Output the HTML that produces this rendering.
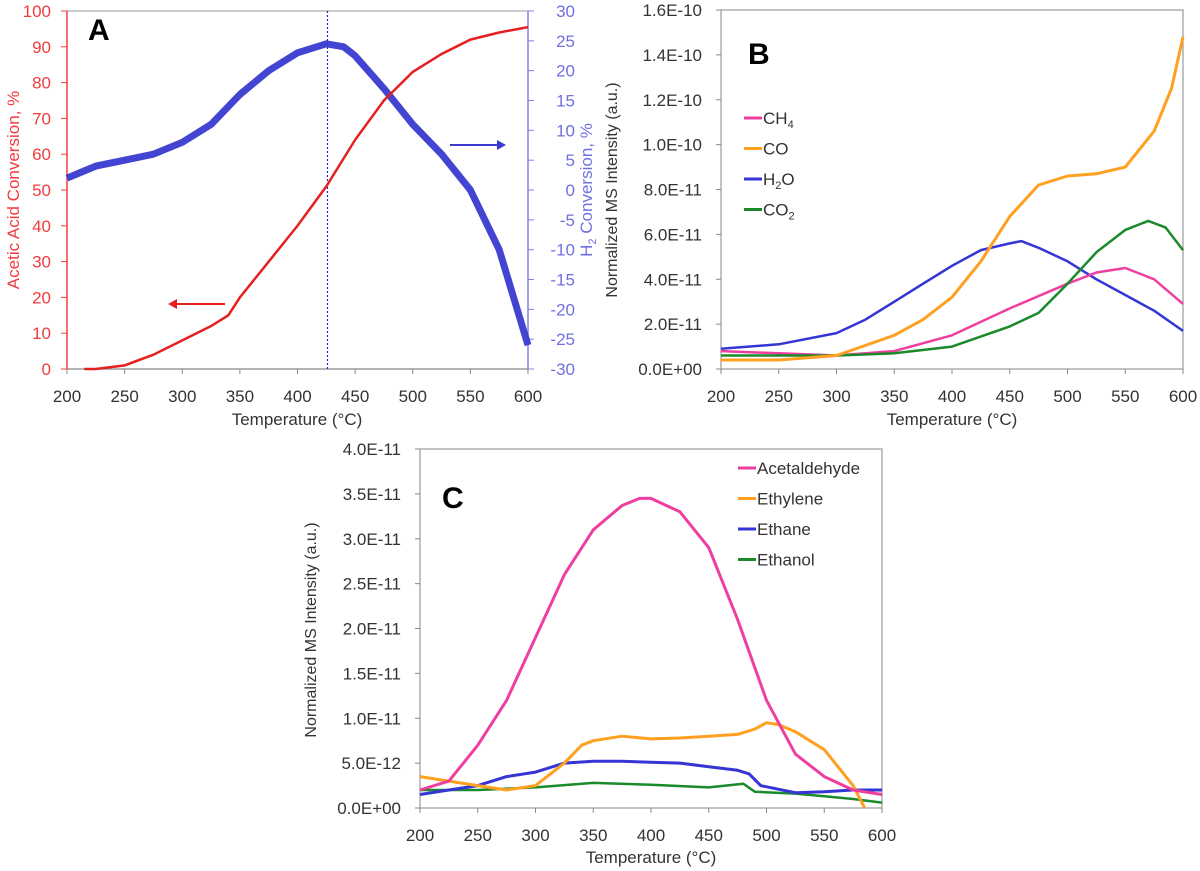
<!DOCTYPE html>
<html><head><meta charset="utf-8">
<style>
html,body{margin:0;padding:0;background:#fff;}
svg{display:block;font-family:"Liberation Sans",sans-serif;}
</style></head>
<body>
<svg id="fig" width="1200" height="871" viewBox="0 0 1200 871" xmlns="http://www.w3.org/2000/svg"></svg>
<script>
// ---------- Panel A data ----------
const aTemp = [215,225,250,275,300,325,340,350,375,400,425,450,475,500,525,550,575,600];
const aAcetic = [0,0,1,4,8,12,15,20,30,40,51,64,75,83,88,92,94,95.5];
const aH2Temp = [200,225,250,275,300,325,350,375,400,425,440,450,475,500,525,550,575,600];
const aH2 = [2,4,5,6,8,11,16,20,23,24.5,24,22.5,17,11,6,0,-10,-26];
const aLeftTicks = [0,10,20,30,40,50,60,70,80,90,100];
const aRightTicks = [-30,-25,-20,-15,-10,-5,0,5,10,15,20,25,30];
const xTicks = [200,250,300,350,400,450,500,550,600];
// ---------- Panel B data (x1e-11) ----------
const bCH4T = [200,250,300,350,400,450,500,525,550,575,600];
const bCH4 = [0.8,0.7,0.6,0.8,1.5,2.7,3.8,4.3,4.5,4.0,2.9];
const bCOT = [200,250,300,350,375,400,425,450,475,500,525,550,575,590,600];
const bCO = [0.4,0.4,0.6,1.5,2.2,3.2,4.8,6.8,8.2,8.6,8.7,9.0,10.6,12.5,14.8];
const bH2OT = [200,250,300,325,350,375,400,425,450,460,475,500,525,550,575,600];
const bH2O = [0.9,1.1,1.6,2.2,3.0,3.8,4.6,5.3,5.6,5.7,5.4,4.8,4.0,3.3,2.6,1.7];
const bCO2T = [200,250,300,350,400,450,475,500,525,550,570,585,600];
const bCO2 = [0.6,0.6,0.6,0.7,1.0,1.9,2.5,3.8,5.2,6.2,6.6,6.3,5.3];
const bTicks = ["0.0E+00","2.0E-11","4.0E-11","6.0E-11","8.0E-11","1.0E-10","1.2E-10","1.4E-10","1.6E-10"];
// ---------- Panel C data (x1e-12) ----------
const cAcetT = [200,225,250,275,300,325,350,375,390,400,425,450,475,500,525,550,575,600];
const cAcet = [2,3,7,12,19,26,31,33.7,34.5,34.5,33,29,21,12,6,3.5,2,1.5];
const cEthyT = [200,225,250,275,300,325,340,350,375,400,425,450,475,490,500,510,525,550,575,585];
const cEthy = [3.5,3,2.5,2,2.5,5,7,7.5,8,7.7,7.8,8,8.2,8.8,9.5,9.3,8.5,6.5,2.5,0];
const cEthaT = [200,225,250,275,300,325,350,375,400,425,450,475,485,495,525,550,575,600];
const cEtha = [1.5,2,2.5,3.5,4,5,5.2,5.2,5.1,5,4.6,4.2,3.8,2.5,1.7,1.8,2,2];
const cEtohT = [200,250,300,350,400,450,480,490,525,550,575,600];
const cEtoh = [2,2,2.3,2.8,2.6,2.3,2.7,1.8,1.6,1.3,1,0.6];
const cTicks = ["0.0E+00","5.0E-12","1.0E-11","1.5E-11","2.0E-11","2.5E-11","3.0E-11","3.5E-11","4.0E-11"];

const NS = "http://www.w3.org/2000/svg";
const svg = document.getElementById("fig");
function mk(tag, attrs, parent){
  const e = document.createElementNS(NS, tag);
  for (const k in attrs) e.setAttribute(k, attrs[k]);
  (parent||svg).appendChild(e);
  return e;
}
function txt(s, x, y, attrs, parent){
  const t = mk("text", Object.assign({x:x, y:y}, attrs), parent);
  t.textContent = s;
  return t;
}
function lin(d0,d1,r0,r1){ return v => r0 + (v-d0)*(r1-r0)/(d1-d0); }
function pathFrom(xs, ys, sx, sy){
  return xs.map((x,i)=>(i?"L":"M")+sx(x).toFixed(1)+","+sy(ys[i]).toFixed(1)).join(" ");
}

// ===== Panel A =====
const gA = mk("g",{});


const axA = lin(200,600,67,528), ayL = lin(0,100,369,11), ayR = lin(-30,30,369,11);
mk("line",{x1:67,y1:11,x2:528,y2:11,stroke:"#999","stroke-width":1},gA);
mk("line",{x1:67,y1:369,x2:528,y2:369,stroke:"#888","stroke-width":1.2},gA);
const aLeftAxis = mk("line",{x1:67,y1:11,x2:67,y2:369,stroke:"#f04040","stroke-width":1.5},gA);


const aRightAxis = mk("line",{x1:528,y1:11,x2:528,y2:369,stroke:"#8080e8","stroke-width":1.5},gA);


aLeftTicks.forEach(v=>{
  mk("line",{x1:61,y1:ayL(v),x2:67,y2:ayL(v),stroke:"#f04040"},gA);
  const t = txt(String(v),51,ayL(v)+6,{"text-anchor":"end","font-size":17,fill:"#f03c3c"},gA);
  
  
});
aRightTicks.forEach(v=>{
  mk("line",{x1:528,y1:ayR(v),x2:534,y2:ayR(v),stroke:"#8080e8"},gA);
  const t = txt(String(v),575,ayR(v)+6,{"text-anchor":"end","font-size":17,fill:"#7070e0"},gA);
  
  
});
xTicks.forEach(v=>{
  mk("line",{x1:axA(v),y1:369,x2:axA(v),y2:374,stroke:"#888"},gA);
  const t = txt(String(v),axA(v),402,{"text-anchor":"middle","font-size":17,fill:"#333"},gA);
  
  
});
const aXT = txt("Temperature (°C)",297,425,{"text-anchor":"middle","font-size":17,fill:"#333"},gA);


const aYT = txt("Acetic Acid Conversion, %",0,0,{"text-anchor":"middle","font-size":17,fill:"#f03c3c",transform:"translate(19,190) rotate(-90)"},gA);


const aYR = mk("text",{"text-anchor":"middle","font-size":17,fill:"#7070e0",transform:"translate(592,190) rotate(-90)"},gA);
aYR.innerHTML = 'H<tspan font-size="11" dy="4">2</tspan><tspan dy="-4"> Conversion, %</tspan>';


const vline = mk("line",{x1:axA(426),y1:11,x2:axA(426),y2:369,stroke:"#2020e0","stroke-width":1.2,"stroke-dasharray":"2,2"},gA);


const h2 = mk("path",{d:pathFrom(aH2Temp,aH2,axA,ayR),fill:"none",stroke:"#3a3ad0","stroke-width":7,"stroke-linejoin":"round",opacity:0.95},gA);


const ac = mk("path",{d:pathFrom(aTemp,aAcetic,axA,ayL),fill:"none",stroke:"#e52020","stroke-width":2.5},gA);


const arrR = mk("g",{},gA);


mk("line",{x1:225,y1:304,x2:172,y2:304,stroke:"#e52020","stroke-width":2},arrR);
mk("path",{d:"M168,304 L177,299 L177,309 Z",fill:"#e52020"},arrR);
const arrB = mk("g",{},gA);


mk("line",{x1:450,y1:145,x2:502,y2:145,stroke:"#3a3ad0","stroke-width":2},arrB);
mk("path",{d:"M506,145 L497,140 L497,150 Z",fill:"#3a3ad0"},arrB);
const la = txt("A",88,40,{"font-size":30,"font-weight":"bold",fill:"#000"},gA);



// ===== Generic MS panel =====
function msPanel(name, x0,x1,y0,y1, ymax, tickLabels, series, labelPos, legend, yTitleX, yTitleY, xTitleX, xTitleY){
  const g = mk("g",{});
  
  
  const sx = lin(200,600,x0,x1), sy = lin(0,ymax,y1,y0);
  mk("rect",{x:x0,y:y0,width:x1-x0,height:y1-y0,fill:"none",stroke:"#999","stroke-width":1.2},g);
  tickLabels.forEach((s,i)=>{
    const y = sy(i*ymax/(tickLabels.length-1));
    mk("line",{x1:x0-5,y1:y,x2:x0,y2:y,stroke:"#888"},g);
    const t = txt(s,x0-19,y+6,{"text-anchor":"end","font-size":17,fill:"#333"},g);
    
    
  });
  xTicks.forEach(v=>{
    mk("line",{x1:sx(v),y1:y1,x2:sx(v),y2:y1+5,stroke:"#888"},g);
    const t = txt(String(v),sx(v),y1+33,{"text-anchor":"middle","font-size":17,fill:"#333"},g);
    
    
  });
  const xt = txt("Temperature (°C)",xTitleX,xTitleY,{"text-anchor":"middle","font-size":17,fill:"#333"},g);
  
  
  const yt = txt("Normalized MS Intensity (a.u.)",0,0,{"text-anchor":"middle","font-size":16,fill:"#333",transform:"translate("+yTitleX+","+yTitleY+") rotate(-90)"},g);
  
  
  series.forEach(s=>{
    const p = mk("path",{d:pathFrom(s.t,s.v,sx,sy),fill:"none",stroke:s.c,"stroke-width":s.w,"stroke-linejoin":"round"},g);
    
    
  });
  const lbl = txt(labelPos[0],labelPos[1],labelPos[2],{"font-size":30,"font-weight":"bold",fill:"#000"},g);
  
  
  legend.items.forEach((it,i)=>{
    const y = legend.y + i*legend.dy;
    const e = mk("g",{},g);
    
    
    mk("line",{x1:legend.x,y1:y,x2:legend.x+18,y2:y,stroke:it.c,"stroke-width":3},e);
    const t = mk("text",{x:legend.x+19,y:y+6,"font-size":17,fill:"#333"},e);
    t.innerHTML = it.h;
  });
}
msPanel("panel-b",721,1183,10,369,16,bTicks,[
  {n:"h2o-line",t:bH2OT,v:bH2O,c:"#3535d5",w:2.5},
  {n:"ch4-line",t:bCH4T,v:bCH4,c:"#ee3fa0",w:2.5},
  {n:"co2-line",t:bCO2T,v:bCO2,c:"#1a8a2a",w:2.5},
  {n:"co-line",t:bCOT,v:bCO,c:"#ffa020",w:3}
],["B",748,64],{x:744,y:118,dy:30.5,items:[
  {c:"#ee3fa0",h:'CH<tspan font-size="11" dy="4">4</tspan>'},
  {c:"#ffa020",h:'CO'},
  {c:"#3535d5",h:'H<tspan font-size="11" dy="4">2</tspan><tspan dy="-4">O</tspan>'},
  {c:"#1a8a2a",h:'CO<tspan font-size="11" dy="4">2</tspan>'}
]},617,190,952,425);
msPanel("panel-c",420,882,449,808,40,cTicks,[
  {n:"ethanol-line",t:cEtohT,v:cEtoh,c:"#1a8a2a",w:2.5},
  {n:"ethane-line",t:cEthaT,v:cEtha,c:"#3535d5",w:3},
  {n:"ethylene-line",t:cEthyT,v:cEthy,c:"#ffa020",w:3},
  {n:"acetaldehyde-line",t:cAcetT,v:cAcet,c:"#ee3fa0",w:3}
],["C",442,508],{x:738,y:468,dy:30.5,items:[
  {c:"#ee3fa0",h:'Acetaldehyde'},
  {c:"#ffa020",h:'Ethylene'},
  {c:"#3535d5",h:'Ethane'},
  {c:"#1a8a2a",h:'Ethanol'}
]},316,630,651,863);
</script>
</body></html>
